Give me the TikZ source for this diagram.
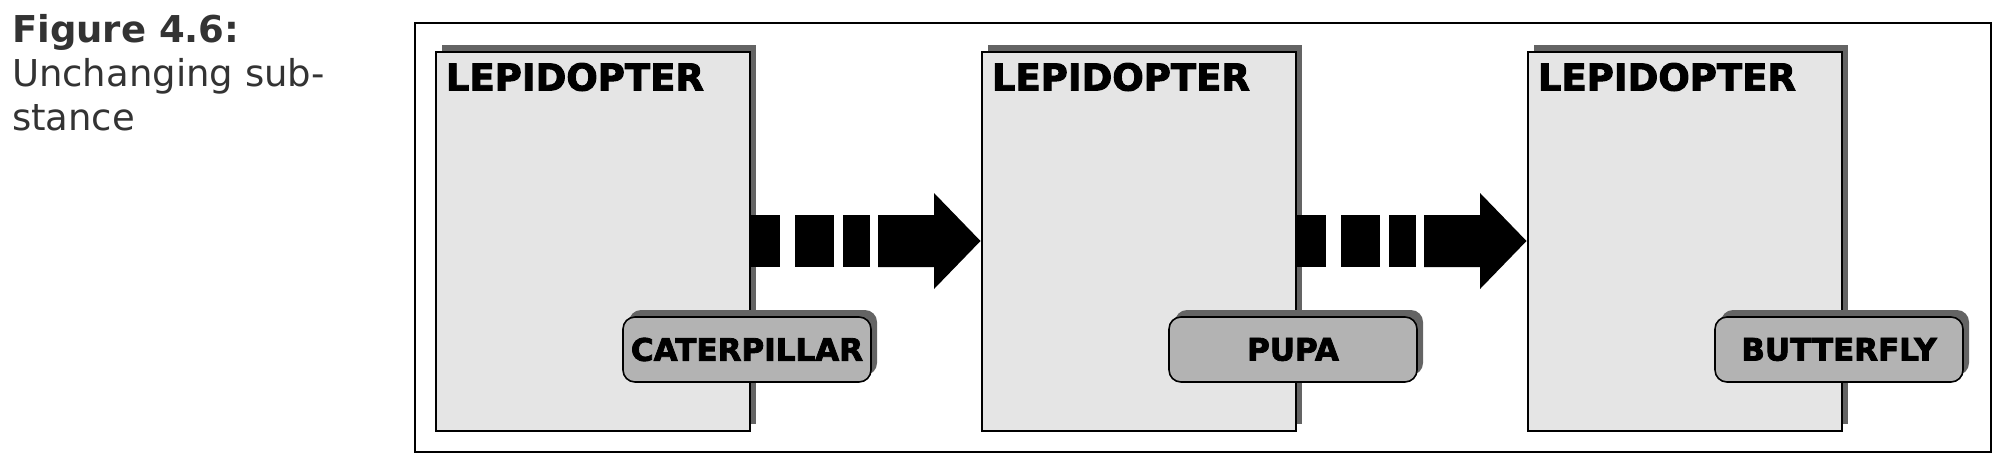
\documentclass[tikz,border=0pt]{standalone}
\usepackage{fontspec}
\setmainfont{DejaVu Sans}
\newfontfamily\heavyfont[FakeBold=2.6]{DejaVu Sans Bold}
\usetikzlibrary{calc}
\usetikzlibrary{shadows}
\definecolor{boxgray}{RGB}{229,229,229}
\definecolor{taggray}{RGB}{179,179,179}
\definecolor{shadegray}{RGB}{100,100,100}
\definecolor{captiongray}{RGB}{51,51,51}
\begin{document}
\begin{tikzpicture} [x=.5pt, y=-.5pt,
  stagebox/.style={draw=black, line width=1pt, fill=boxgray, inner sep=0pt,
    minimum width=157pt, minimum height=189.5pt,
    drop shadow={shadow xshift=3.25pt, shadow yshift=3.5pt, opacity=1, fill=shadegray}},
  formtag/.style={draw=black, line width=.8pt, fill=taggray, rounded corners=6pt,
    inner sep=0pt, minimum width=124pt, minimum height=32.5pt,
    font=\fontsize{15.5}{18}\selectfont\heavyfont,
    drop shadow={shadow xshift=3pt, shadow yshift=3.5pt, opacity=1, fill=shadegray}}]

\useasboundingbox (0,0) rectangle (2006,467);

\node[anchor=base west, text=captiongray, font=\fontsize{18.5}{21}\selectfont\bfseries] (fig) at (5,42.5) {Figure 4.6:};
\node[anchor=base west, text=captiongray, font=\fontsize{18.5}{21}\selectfont] (cap1) at (5,86) {Unchanging sub-};
\node[anchor=base west, text=captiongray, font=\fontsize{18.5}{21}\selectfont] (cap2) at (5,130) {stance};

\draw[line width=1pt] (414.5,23) rectangle (1991,452);

\foreach \i/\x/\form in {1/592.5/CATERPILLAR, 2/1138.5/PUPA, 3/1684.5/BUTTERFLY} {
 \node[stagebox] (lep\i) at (\x,241) {};
 \node[anchor=base west, inner sep=0pt, font=\fontsize{18.5}{22}\selectfont\heavyfont] (name\i) at ($(lep\i.north west)+(11,40)$) {LEPIDOPTER};
 \node[formtag] (form\i) at ($(lep\i.center)+(154.5,108.5)$) {\form};
};

\foreach \i/\j in {1/2, 2/3} {
 \foreach \s/\e in {0/29, 44/83, 92.5/119.5}
  \fill ($(lep\i.east)+(\s,-26)$) rectangle ($(lep\i.east)+(\e,26)$);
 \fill ($(lep\i.east)+(127.5,-26)$) -- ++(56,0) -- ++(0,-22) -- (lep\j.west) -- ++(-46.5,48) -- ++(0,-22) -- ++(-56,0) -- cycle;
};

\end{tikzpicture}
\end{document}
